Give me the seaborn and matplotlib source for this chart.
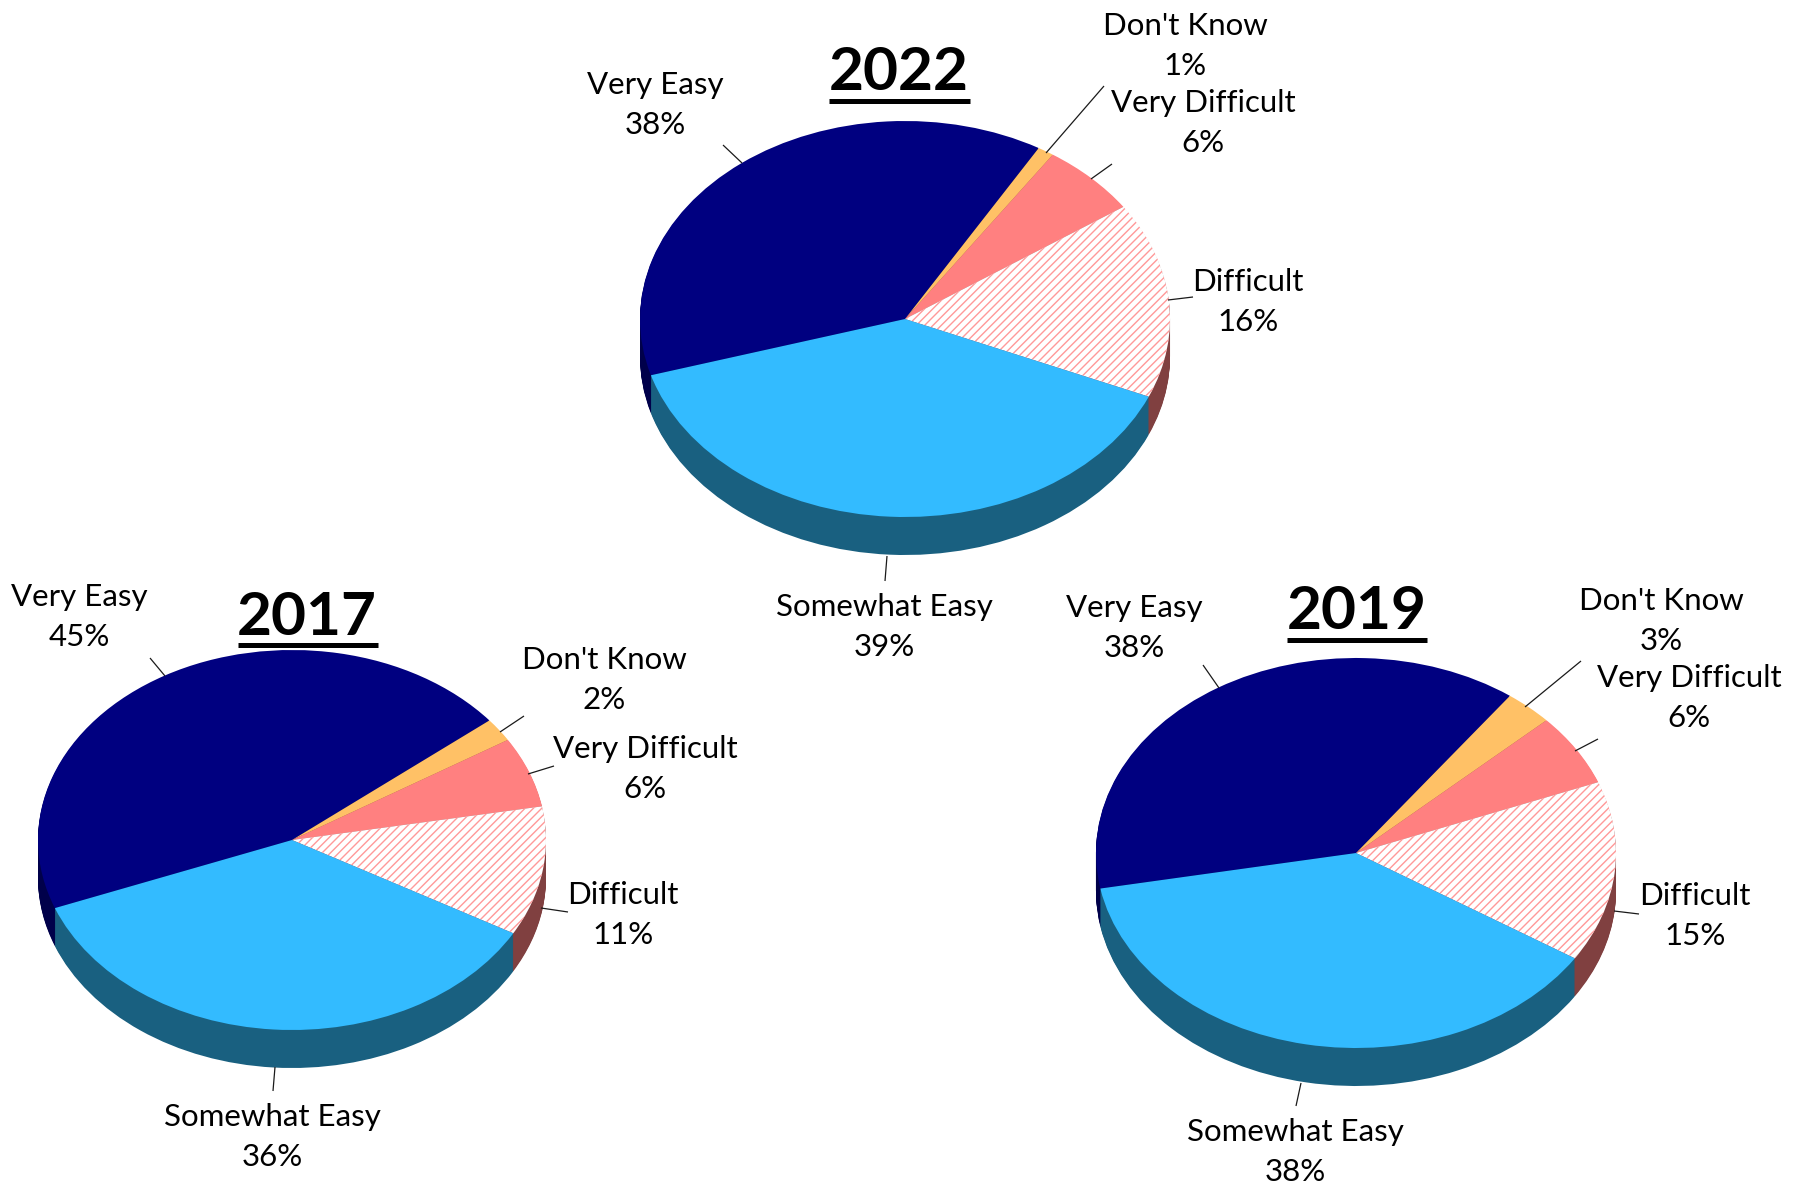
import numpy as np
import matplotlib
matplotlib.use("Agg")
import matplotlib.pyplot as plt
import seaborn as sns

# Data
categories = ["Very Easy", "Don't Know", "Very Difficult", "Difficult", "Somewhat Easy"]
values_2022 = [38, 1, 6, 16, 39]
values_2017 = [45, 2, 6, 11, 36]
values_2019 = [38, 3, 6, 15, 38]

W, H = 1805, 1185
top_colors = sns.color_palette(["#000080", "#FFC166", "#FF8080", "#FFFFFF", "#33BBFF"])
side_colors = sns.color_palette(["#00004A", "#996F33", "#994D4D", "#804040", "#196080"])
HATCH_COLOR = "#FF9999"

sns.set_theme(style="white")
plt.rcParams["font.family"] = ["Lato", "DejaVu Sans"]
plt.rcParams["hatch.linewidth"] = 1.0

fig = plt.figure(figsize=(W / 100, H / 100), dpi=100, facecolor="white")

# overlay in pixel coordinates for labels, leader lines and titles
overlay = fig.add_axes([0, 0, 1, 1], zorder=5)
overlay.set_xlim(0, W)
overlay.set_ylim(H, 0)
overlay.axis("off")


def draw_pie(values, title, cx, cy, rx, ry, depth, start, title_x, title_y, under, label_pos, leaders):
    ax = fig.add_axes([(cx - rx) / W, 1 - (cy + ry + depth) / H, 2 * rx / W, (2 * ry + depth) / H])

    # stacked layers make the side of the disc
    for d in np.arange(depth, 0, -1):
        ax.pie(values, colors=side_colors, startangle=start, counterclock=False,
               center=(0, -d / ry), wedgeprops={"linewidth": 0}, frame=False)

    wedges, _ = ax.pie(values, colors=top_colors, startangle=start, counterclock=False,
                       wedgeprops={"linewidth": 0}, frame=False)
    wedges[3].set_hatch("////")
    wedges[3].set_edgecolor(HATCH_COLOR)
    wedges[3].set_linewidth(0)

    # squash the circle into the tilted ellipse
    ax.set_aspect("auto")
    ax.set_xlim(-1, 1)
    ax.set_ylim(-1 - depth / ry, 1)
    ax.axis("off")

    for name, val, (x, y), (x0, y0, x1, y1) in zip(categories, values, label_pos, leaders):
        overlay.plot([x0, x1], [y0, y1], color="#1a1a1a", lw=0.9, solid_capstyle="butt")
        overlay.text(x, y + 2, f"{name}\n{val}%", ha="center", va="center", fontsize=22.5,
                     color="black", linespacing=1.53)

    overlay.text(title_x, title_y + 4, title, ha="center", va="center", fontsize=43.5,
                 fontweight="bold", color="black")
    overlay.plot(under[:2], [under[2], under[2]], color="black", lw=3.6, solid_capstyle="butt")


draw_pie(values_2022, "2022", 905, 319, 265, 198, 38, 196.5, 899, 69, (829, 970, 100.5),
         [(655, 103), (1185, 44), (1203, 121), (1248, 300), (884, 625)],
         [(723, 145, 742, 163), (1104, 86, 1046, 153), (1112, 164, 1091, 179),
          (1193, 297, 1168, 300), (887, 556, 885, 581)])

draw_pie(values_2017, "2017", 292, 840, 254, 190, 38, 201, 307, 614, (238, 378, 645),
         [(79, 615), (604, 678), (645, 767), (623, 913), (272, 1135)],
         [(150, 658, 165, 676), (524, 716, 500, 732), (554, 766, 528, 774),
          (568, 912, 541, 908), (275, 1067, 273, 1091)])

draw_pie(values_2019, "2019", 1356, 853, 260, 195, 38, 190.5, 1357, 608, (1287, 1427, 640),
         [(1134, 626), (1661, 619), (1689, 696), (1695, 914), (1295, 1150)],
         [(1203, 665, 1219, 688), (1581, 661, 1525, 707), (1598, 739, 1575, 751),
          (1639, 914, 1614, 911), (1301, 1083, 1296, 1106)])

fig.savefig("out.png", dpi=100, facecolor="white")
